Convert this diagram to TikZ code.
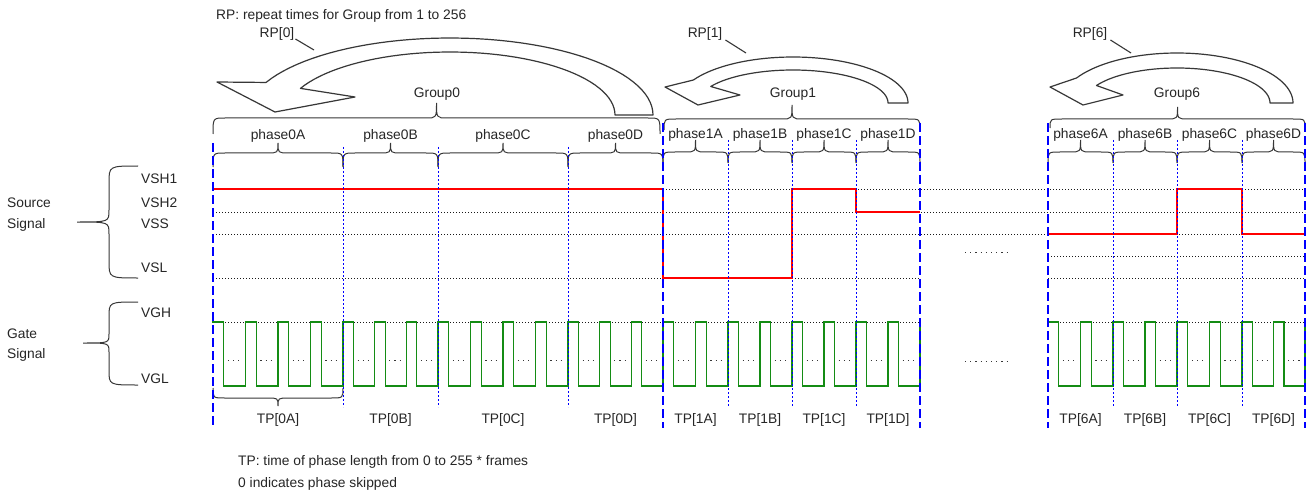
\documentclass[tikz,border=0pt]{standalone}
\usepackage{fontspec}
\setmainfont{Liberation Sans}
\definecolor{sigred}{RGB}{255,0,0}
\definecolor{gategreen}{RGB}{20,140,20}
\definecolor{bndblue}{RGB}{0,0,255}
\definecolor{inkgray}{RGB}{55,55,55}
% horizontal brace: x1 x2 yend yflat ytip
\newcommand\hbr[5]{%
  \pgfmathsetmacro\hbm{(#1+#2)/2}%
  \draw[bracestyle] (#1,#3) .. controls (#1,#4) .. ({#1+12},#4) -- ({\hbm-11},#4) .. controls (\hbm,#4) .. (\hbm,#5) .. controls (\hbm,#4) .. ({\hbm+11},#4) -- ({#2-12},#4) .. controls (#2,#4) .. (#2,#3);%
}
% vertical brace pointing left: xend xflat xtip y1 y2 ymid rEnd rTip
\newcommand\vbr[8]{%
  \draw[bracestyle] (#1,#4) .. controls (#2,#4) .. (#2,{#4+#7}) -- (#2,{#6-#8}) .. controls (#2,#6) .. (#3,#6) .. controls (#2,#6) .. (#2,{#6+#8}) -- (#2,{#5-#7}) .. controls (#2,#5) .. (#1,#5);%
}
% gate pulses: xa xb n
\newcommand\gatephase[3]{%
  \pgfmathsetmacro\gpP{(#2-#1)/#3}%
  \foreach \k in {1,...,#3}{%
    \pgfmathsetmacro\gpA{#1+(\k-1)*\gpP}%
    \pgfmathsetmacro\gpB{\gpA+\gpP/3}%
    \pgfmathsetmacro\gpC{\gpA+\gpP}%
    \draw[gate] (\gpA,322) -- (\gpB,322) -- (\gpB,386) -- (\gpC,386) -- (\gpC,322);
    \draw[gdots] ({\gpB+4},360) -- ({\gpC-4},360);
  }%
}
\begin{document}
\begin{tikzpicture}[x=1pt,y=-1pt,
  lbl/.style={font=\fontsize{13.8}{16}\selectfont, inner sep=0pt, anchor=base, text=black!85},
  bracestyle/.style={draw=inkgray, line width=1pt},
  bigarrow/.style={draw=inkgray, fill=white, line width=1.2pt, line join=round},
  leader/.style={draw=inkgray, line width=1.1pt},
  lvl/.style={draw=black!90, line width=0.9pt, dash pattern=on 1.3pt off 1.7pt},
  grpb/.style={draw=bndblue, line width=2.5pt, dash pattern=on 9pt off 4pt},
  phb/.style={draw=bndblue, line width=1pt, dash pattern=on 2pt off 2pt},
  sig/.style={draw=sigred, line width=2.2pt},
  gate/.style={draw=gategreen, line width=1.2pt, line cap=rect},
  gdots/.style={draw=inkgray, line width=1pt, dash pattern=on 1.2pt off 4pt},
  gapdots/.style={draw=inkgray, line width=1pt, dash pattern=on 1.2pt off 4pt}]
\useasboundingbox (0,0) rectangle (1312,492);
\fill[white] (0,0) rectangle (1312,492);

% ---------- curved repeat arrows ----------
\draw[bigarrow] plot[domain=0:155,samples=50] ({450+203*cos(\x)},{115-77*sin(\x)})
  -- (217,82) -- (275,112) -- (355,97)
  -- plot[domain=155:0,samples=50] ({450+165*cos(\x)},{115-63*sin(\x)}) -- cycle;
\draw[bigarrow] plot[domain=0:150,samples=50] ({793+115*cos(\x)},{103-46*sin(\x)})
  -- (665,87) -- (698,105) -- (740,95)
  -- plot[domain=150:0,samples=50] ({793+95*cos(\x)},{103-33*sin(\x)}) -- cycle;
\draw[bigarrow] plot[domain=0:150,samples=50] ({1177+116*cos(\x)},{103-50*sin(\x)})
  -- (1050,87) -- (1083,105) -- (1123,95)
  -- plot[domain=150:0,samples=50] ({1177+93*cos(\x)},{103-35*sin(\x)}) -- cycle;

\node[lbl, anchor=base west] (rpnote) at (216,20) {RP: repeat times for Group from 1 to 256};
\node[lbl] (rp0) at (277,38) {RP[0]};
\node[lbl] (rp1) at (705,38) {RP[1]};
\node[lbl] (rp6) at (1090,38) {RP[6]};
\coordinate (rp0end) at (314,50);
\coordinate (rp1end) at (746,53);
\coordinate (rp6end) at (1131,53);
\draw[leader] ([xshift=1pt,yshift=-1pt]rp0.base east) -- (rp0end);
\draw[leader] ([xshift=3pt,yshift=-2pt]rp1.base east) -- (rp1end);
\draw[leader] ([xshift=3pt,yshift=-2pt]rp6.base east) -- (rp6end);

% ---------- group braces ----------
\hbr{213}{660}{134}{118}{103}
\hbr{664}{920}{130}{119}{105}
\hbr{1050}{1305}{128}{119}{107}
\node[lbl] (g0) at (437,98) {Group0};
\node[lbl] (g1) at (793,98) {Group1};
\node[lbl] (g6) at (1177,98) {Group6};

% ---------- level lines ----------
\draw[lvl] (213,189) -- (1305,189);
\draw[lvl] (213,212) -- (1305,212);
\draw[lvl] (213,234) -- (1305,234);
\draw[lvl] (1048,256) -- (1305,256);
\draw[lvl] (213,278) -- (920,278);
\draw[lvl] (1048,278) -- (1305,278);
\draw[lvl] (213,322) -- (920,322);
\draw[lvl] (1048,322) -- (1305,322);
\draw[gapdots] (965,252) -- (1007,252);
\draw[gapdots] (965,361) -- (1007,361);

% ---------- phase braces, labels ----------
\foreach \nm/\xa/\xb in {0A/213/343, 0B/343/438, 0C/438/568, 0D/568/663}{
  \hbr{\xa}{\xb}{167}{153}{143}
  \node[lbl] (ph\nm) at ({(\xa+\xb)/2},140) {phase\nm};
  \node[lbl] (tp\nm) at ({(\xa+\xb)/2},423) {TP[\nm]};
}
\foreach \nm/\xa/\xb in {1A/663/728, 1B/728/792, 1C/792/856, 1D/856/920,
                         6A/1048/1113, 6B/1113/1177, 6C/1177/1242, 6D/1242/1305}{
  \hbr{\xa}{\xb}{163}{152}{140}
  \node[lbl] (ph\nm) at ({(\xa+\xb)/2},139) {phase\nm};
  \node[lbl] (tp\nm) at ({(\xa+\xb)/2},423) {TP[\nm]};
}
\hbr{213}{343}{388}{398}{406}

% ---------- left labels ----------
\vbr{138}{109}{77}{166}{278}{222}{17}{12}
\vbr{138}{109}{83}{302}{385}{343}{15}{9}
\node[lbl, anchor=base west] (src1) at (7,207) {Source};
\node[lbl, anchor=base west] (src2) at (7,228) {Signal};
\node[lbl, anchor=base west] (gt1) at (7,338) {Gate};
\node[lbl, anchor=base west] (gt2) at (7,358) {Signal};
\node[lbl, anchor=base west] (vsh1) at (141,183) {VSH1};
\node[lbl, anchor=base west] (vsh2) at (141,207) {VSH2};
\node[lbl, anchor=base west] (vss) at (141,228) {VSS};
\node[lbl, anchor=base west] (vsl) at (141,272) {VSL};
\node[lbl, anchor=base west] (vgh) at (141,317) {VGH};
\node[lbl, anchor=base west] (vgl) at (141,383) {VGL};

% ---------- source signal ----------
\draw[sig] (213,189) -- (663,189);
\draw[sig] (663,189) -- (663,278) -- (792,278) -- (792,189) -- (856,189) -- (856,212) -- (920,212);
\draw[sig] (1048,234) -- (1177,234) -- (1177,189) -- (1242,189) -- (1242,234) -- (1305,234);

% ---------- gate signal ----------
\gatephase{213}{343}{4}
\gatephase{343}{438}{3}
\gatephase{438}{568}{4}
\gatephase{568}{663}{3}
\gatephase{663}{728}{2}
\gatephase{728}{792}{2}
\gatephase{792}{856}{2}
\gatephase{856}{920}{2}
\gatephase{1048}{1113}{2}
\gatephase{1113}{1177}{2}
\gatephase{1177}{1242}{2}
\gatephase{1242}{1305}{2}

% ---------- boundaries ----------
\foreach \x in {343,438,568}{ \draw[phb] (\x,147) -- (\x,407); }
\foreach \x in {728,792,856,1113,1177,1242}{ \draw[phb] (\x,140) -- (\x,407); }
\draw[grpb] (213,143) -- (213,428);
\foreach \x in {663,920,1048,1305}{ \draw[grpb] (\x,123) -- (\x,428); }

% ---------- notes ----------
\node[lbl, anchor=base west] (note1) at (238,465) {TP: time of phase length from 0 to 255 * frames};
\node[lbl, anchor=base west] (note2) at (238,487) {0 indicates phase skipped};
\end{tikzpicture}
\end{document}
